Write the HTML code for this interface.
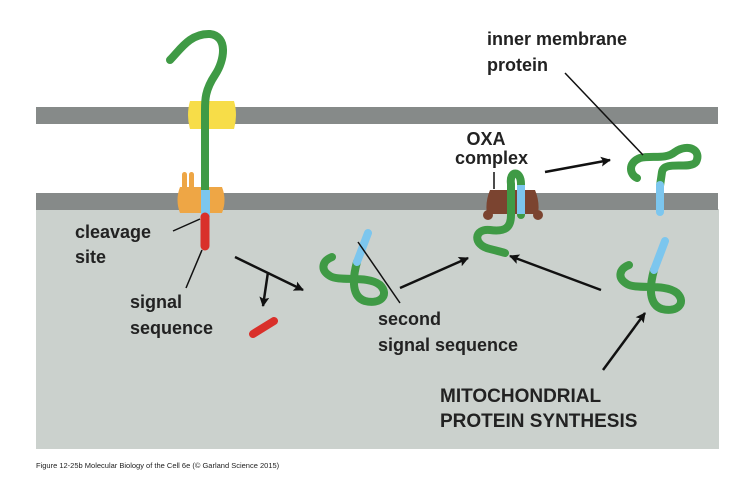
<!DOCTYPE html>
<html><head><style>body{margin:0;background:#fff}svg{display:block}text{font-family:"Liberation Sans",sans-serif;font-weight:bold;fill:#222}</style></head><body>
<svg width="741" height="483" viewBox="0 0 741 483" xmlns="http://www.w3.org/2000/svg">
<defs><marker id="a" viewBox="0 0 10 10" refX="9" refY="5" markerWidth="7" markerHeight="7" orient="auto" markerUnits="userSpaceOnUse"><path d="M0,0 L10,5 L0,10 z" fill="#111"/></marker>
<marker id="b" viewBox="0 0 10 10" refX="9" refY="5" markerWidth="14" markerHeight="10" orient="auto" markerUnits="userSpaceOnUse"><path d="M0,0 L10,5 L0,10 L2,5 z" fill="#111"/></marker></defs>
<rect x="36" y="209" width="683" height="240" fill="#cbd1cd"/>
<rect x="36" y="107" width="682" height="17" fill="#868a89"/>
<rect x="36" y="193" width="682" height="17" fill="#868a89"/>
<!-- left import -->
<path d="M190,101 h44 q4,14 0,28 h-44 q-4,-14 0,-28z" fill="#f7dd48"/>
<rect x="182" y="172" width="5" height="20" rx="2.5" fill="#eea645"/>
<rect x="189" y="172" width="5" height="20" rx="2.5" fill="#eea645"/>
<path d="M180,187 h42 q5,13 0,26 h-42 q-5,-13 0,-26z" fill="#eea645"/>
<path d="M170,60 C180,50 190,33 210,34 C228,36 225,60 215,75 C205,90 205,100 205,110 L205,192" fill="none" stroke="#3f9a45" stroke-width="8" stroke-linecap="round"/>
<rect x="201" y="190" width="9" height="27" fill="#7cc6ee"/>
<path d="M205,217 L205,246" stroke="#d9302a" stroke-width="9" stroke-linecap="round"/>
<path d="M253,334 L274,321" stroke="#d9302a" stroke-width="8" stroke-linecap="round"/>
<text x="75" y="238" font-size="18">cleavage</text>
<text x="75" y="263" font-size="18">site</text>
<text x="130" y="308" font-size="18">signal</text>
<text x="130" y="334" font-size="18">sequence</text>
<path d="M173,231 L200,219" stroke="#111" stroke-width="1.5"/>
<path d="M202,250 L186,288" stroke="#111" stroke-width="1.5"/>
<path d="M235,257 L303,290" stroke="#111" stroke-width="2.5" marker-end="url(#b)"/>
<path d="M268,272 L263,306" stroke="#111" stroke-width="2.5" marker-end="url(#b)"/>
<!-- second protein -->
<path d="M357,262 C352,280 352,297 365,301 C380,305 390,295 380,285 C368,275 340,282 330,276 C320,270 322,261 332,257" fill="none" stroke="#3f9a45" stroke-width="8" stroke-linecap="round"/>
<path d="M368,233 L357,262" stroke="#7cc6ee" stroke-width="8" stroke-linecap="round"/>
<path d="M400,303 L358,242" stroke="#111" stroke-width="1.5"/>
<text x="378" y="325" font-size="18">second</text>
<text x="378" y="351" font-size="18">signal sequence</text>
<path d="M400,288 L468,258" stroke="#111" stroke-width="2.5" marker-end="url(#b)"/>
<path d="M601,290 L510,256" stroke="#111" stroke-width="2.5" marker-end="url(#b)"/>
<!-- OXA -->
<path d="M490,190 h45 q5,12 3,24 h-51 q-2,-12 3,-24z" fill="#7b4430"/>
<circle cx="488" cy="215" r="5" fill="#7b4430"/>
<circle cx="538" cy="215" r="5" fill="#7b4430"/>
<path d="M494,172 L494,189" stroke="#111" stroke-width="1.5"/>
<text x="478" y="145" font-size="18" text-anchor="middle" dx="8">OXA</text>
<text x="455" y="164" font-size="18">complex</text>
<path d="M521,215 L521,184 C521,170 509,170 511,184 L511,215 C511,228 505,232 490,230 C474,228 472,245 490,249 C498,251 502,252 505,253" fill="none" stroke="#3f9a45" stroke-width="8" stroke-linecap="round"/>
<rect x="517" y="185" width="8" height="29" fill="#7cc6ee"/>
<path d="M545,172 L610,160" stroke="#111" stroke-width="2.5" marker-end="url(#b)"/>
<!-- top right protein -->
<path d="M660,186 L662,172 C664,160 690,170 696,162 C702,150 688,143 675,152 C665,160 652,155 640,158 C627,163 630,175 637,178" fill="none" stroke="#3f9a45" stroke-width="8" stroke-linecap="round"/>
<path d="M660,185 L660,212" stroke="#7cc6ee" stroke-width="8" stroke-linecap="round"/>
<text x="487" y="45" font-size="18">inner membrane</text>
<text x="487" y="71" font-size="18">protein</text>
<path d="M565,73 L643,155" stroke="#111" stroke-width="1.5"/>
<!-- bottom right protein -->
<path d="M654,270 C649,288 649,305 662,309 C677,313 687,303 677,293 C665,283 637,290 627,284 C617,278 619,269 629,265" fill="none" stroke="#3f9a45" stroke-width="8" stroke-linecap="round"/>
<path d="M665,241 L654,270" stroke="#7cc6ee" stroke-width="8" stroke-linecap="round"/>
<path d="M603,370 L645,313" stroke="#111" stroke-width="2.5" marker-end="url(#b)"/>
<text x="440" y="402" font-size="19">MITOCHONDRIAL</text>
<text x="440" y="427" font-size="19">PROTEIN SYNTHESIS</text>
<text x="36" y="468" font-size="7.5" style="font-weight:normal" fill="#333">Figure 12-25b  Molecular Biology of the Cell 6e (© Garland Science 2015)</text>
</svg>
</body></html>
